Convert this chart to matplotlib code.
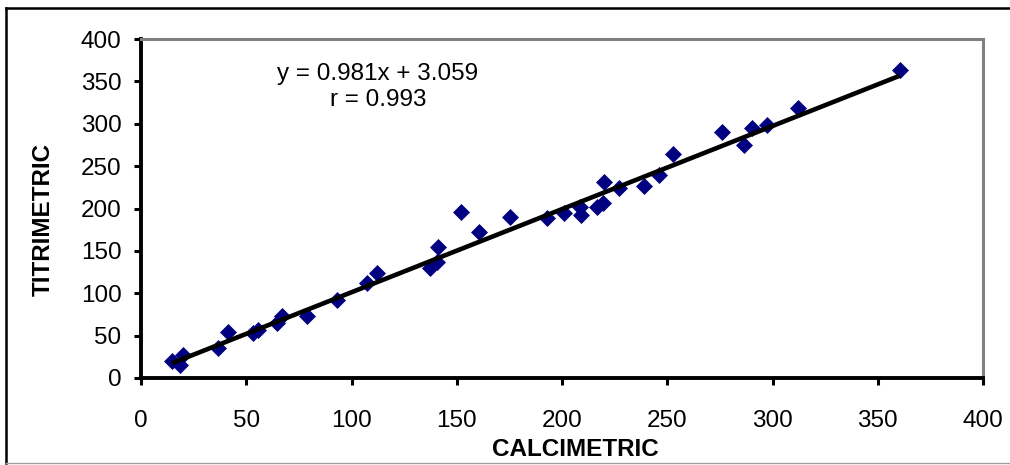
import matplotlib
matplotlib.use("Agg")
import matplotlib.pyplot as plt
from matplotlib.lines import Line2D

plt.rcParams['font.family'] = ['Liberation Sans', 'DejaVu Sans']

# Data
calcimetric = [14.6, 18.5, 19.8, 36.7, 41.5, 53.4, 55.7, 64.5, 66.8, 78.7, 93.0,
               107.2, 112.0, 137.3, 140.5, 141.3, 151.9, 160.7, 175.3, 192.7, 201.0,
               208.5, 208.9, 216.5, 219.6, 220.0, 227.0, 239.0, 246.0, 252.6, 275.8,
               286.6, 290.4, 297.2, 312.3, 360.6]
titrimetric = [20.0, 15.3, 27.0, 35.0, 54.6, 52.7, 56.6, 64.5, 73.5, 73.0, 92.0,
               111.7, 123.5, 129.4, 137.0, 155.0, 196.0, 172.6, 189.6, 188.4, 194.3,
               202.0, 192.3, 202.0, 206.8, 231.6, 223.8, 227.0, 239.5, 264.3, 289.8,
               275.0, 294.5, 298.5, 318.2, 363.4]
slope = 0.981
intercept = 3.059
r_value = 0.993
x_ticks = [0, 50, 100, 150, 200, 250, 300, 350, 400]
y_ticks = [0, 50, 100, 150, 200, 250, 300, 350, 400]

fig = plt.figure(figsize=(10.1, 4.65), dpi=100)
ax = fig.add_axes([141/1010, 1 - 378/465, (983-141)/1010, (378-39)/465])

ax.plot(calcimetric, titrimetric, linestyle='none', marker='D', markersize=8,
        markerfacecolor='#000080', markeredgecolor='#000080', markeredgewidth=0.5, zorder=3)
xl = [min(calcimetric), max(calcimetric)]
ax.plot(xl, [slope * v + intercept for v in xl], color='black', linewidth=3.3, zorder=4,
        solid_capstyle='butt')

ax.set_xlim(0, 400)
ax.set_ylim(0, 400)
ax.set_xticks(x_ticks)
ax.set_yticks(y_ticks)
ax.tick_params(axis='both', direction='out', length=5, width=2.2, color='black',
               labelsize=17.5)
ax.tick_params(axis='x', pad=18)
ax.tick_params(axis='y', pad=9)

for s in ['left', 'bottom']:
    ax.spines[s].set_color('black')
    ax.spines[s].set_linewidth(2.8)
for s in ['top', 'right']:
    ax.spines[s].set_color('#808080')
    ax.spines[s].set_linewidth(2.2)

ax.set_xlabel('CALCIMETRIC', fontsize=17.5, fontweight='bold')
ax.set_ylabel('TITRIMETRIC', fontsize=17.5, fontweight='bold')
ax.xaxis.set_label_coords((575 - 141) / 842, (378 - 438) / 339)
ax.yaxis.set_label_coords((55 - 141) / 842, (378 - 219) / 339)

ax.text(112.6, 358.5, f'y = {slope}x + {intercept}', ha='center', va='center', fontsize=17.5)
ax.text(112.6, 328, f'r = {r_value}', ha='center', va='center', fontsize=17.5)

# outer chart border
fig.add_artist(Line2D([6/1010, 6/1010], [1 - 8/465, 1 - 463/465], transform=fig.transFigure,
                      color='black', linewidth=1.8))
fig.add_artist(Line2D([6/1010, 1.0], [1 - 8/465, 1 - 8/465], transform=fig.transFigure,
                      color='black', linewidth=1.8))
fig.add_artist(Line2D([6/1010, 1.0], [1 - 463/465, 1 - 463/465], transform=fig.transFigure,
                      color='#a0a0a0', linewidth=1.0))

fig.savefig('out.png', dpi=100)
